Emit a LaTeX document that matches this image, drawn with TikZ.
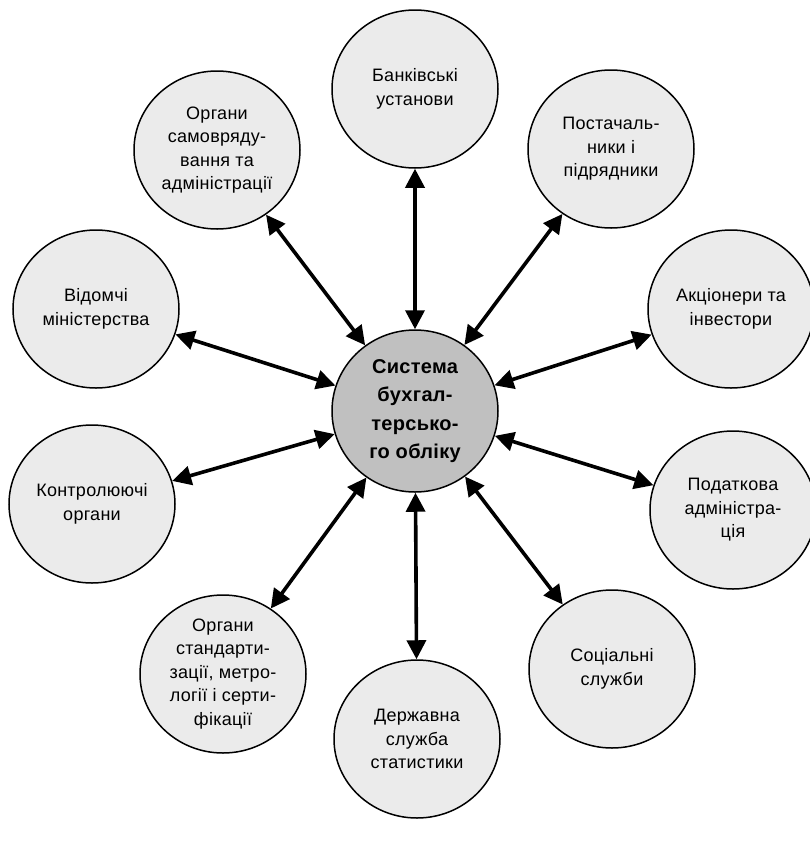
\documentclass[tikz,border=0pt]{standalone}
\usepackage{fontspec}
\setmainfont[LetterSpace=1.5]{Liberation Sans}
\usepackage{tikz}
\usetikzlibrary{shapes.geometric,arrows.meta,positioning}
\definecolor{outerfill}{RGB}{235,235,235}
\definecolor{hubfill}{RGB}{192,192,192}

\begin{document}
\begin{tikzpicture}[x=1pt,y=-1pt,
  party/.style={draw,ellipse,line width=1.5pt,fill=outerfill,inner sep=0pt,minimum width=166pt,minimum height=158pt,align=center,font=\fontsize{18}{23.5}\selectfont},
  hub/.style={party,fill=hubfill,minimum height=162pt,font=\fontsize{20}{28.5}\selectfont\bfseries},
  link/.style={{Triangle[length=19pt,width=19pt]}-{Triangle[length=19pt,width=19pt]},line width=3.6pt}
]
\useasboundingbox (0,0) rectangle (810,847);
% Hub
\node[hub] (sbo) at (415,411) {Система\\бухгал-\\терсько-\\го обліку};
% Outer parties
\node[party] (bank) at (415,89)  {Банківські\\установи};
\node[party] (post) at (611,149) {Постачаль-\\ники і\\підрядники};
\node[party] (akts) at (731,309) {Акціонери та\\інвестори};
\node[party] (podat) at (733,510) {Податкова\\адміністра-\\ція};
\node[party] (sots) at (612,669) {Соціальні\\служби};
\node[party] (derzh) at (417,739) {Державна\\служба\\статистики};
\node[party] (stand) at (223,674) {Органи\\стандарти-\\зації, метро-\\логії і серти-\\фікації};
\node[party] (kontr) at (92,504)  {Контролюючі\\органи};
\node[party] (vidom) at (96,309)  {Відомчі\\міністерства};
\node[party] (samov) at (217,150) {Органи\\самовряду-\\вання та\\адміністрації};

% Arrows
\foreach \p in {bank,post,akts,podat,sots,derzh,stand,kontr,vidom,samov}
  \draw[link] (sbo) -- (\p);
\end{tikzpicture}
\end{document}
